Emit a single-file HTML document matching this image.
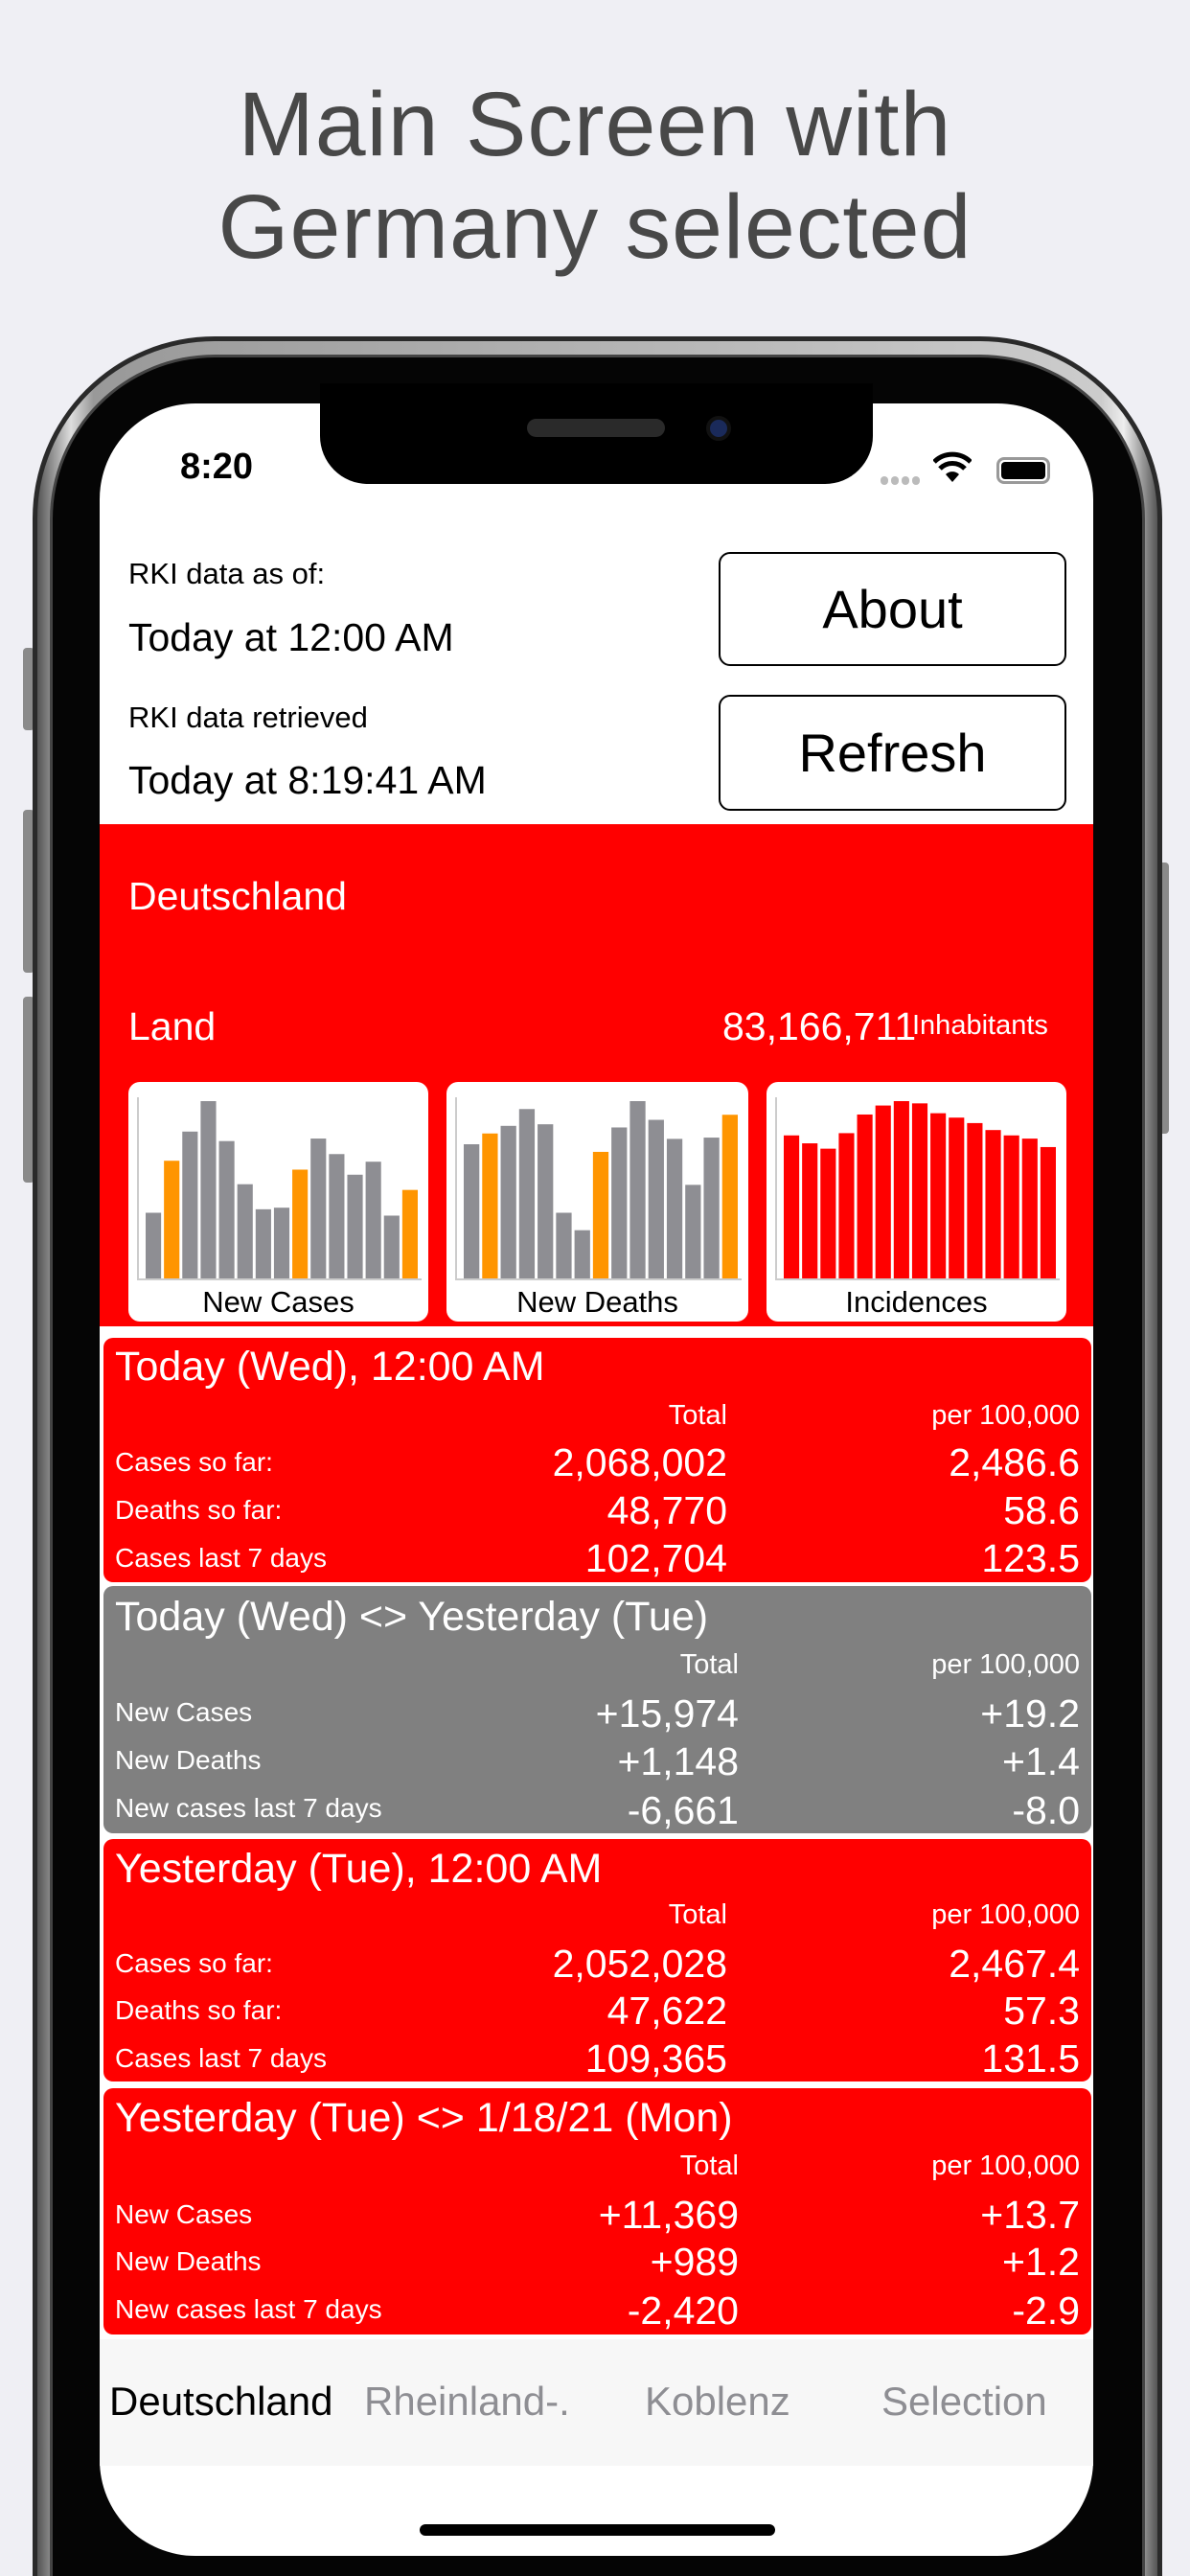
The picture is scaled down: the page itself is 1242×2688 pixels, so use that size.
<!DOCTYPE html>
<html style="overflow:hidden;width:1242px;height:2688px"><head><meta charset="utf-8">
<style>
*{margin:0;padding:0;box-sizing:border-box}
html,body{width:1242px;height:2688px;overflow:hidden}
body{background:#efeff4;font-family:"Liberation Sans",sans-serif}
#root{position:relative;width:1242px;height:2688px;overflow:hidden;background:#efeff4}
.abs{position:absolute}
.title{left:0;width:1242px;text-align:center;color:#484848;font-size:95px;line-height:1;letter-spacing:1px}
.frame{left:34px;top:351px;width:1179px;height:2337px;border-radius:190px 190px 0 0;background:linear-gradient(90deg,#555,#ddd 3%,#999 5%,#ccc 95%,#eee 97%,#555);border:5px solid #2a2a2a;border-bottom:none}
.bezel{left:52px;top:370px;width:1143px;height:2318px;border-radius:172px 172px 0 0;background:#050505;border:3px solid #444;border-bottom:none}
.screen{left:104px;top:421px;width:1037px;height:2246px;border-radius:100px;background:#fff;overflow:hidden}
.notch{left:334px;top:400px;width:577px;height:105px;background:#000;border-radius:0 0 50px 50px}
.btn{border:2px solid #000;border-radius:12px;background:#fff;font-size:56px;text-align:center;color:#000}
.w{color:#fff}
.card{left:108px;width:1031px;border-radius:10px;color:#fff}
.card .t{position:absolute;left:12px;font-size:43px;white-space:nowrap}
.card .h{position:absolute;font-size:29px;text-align:right}
.card .l{position:absolute;left:12px;font-size:28px}
.card .v{position:absolute;font-size:41px;text-align:right}
.chartbox{top:1129px;height:250px;background:#fff;border-radius:12px}
.chartbox .lab{position:absolute;bottom:2px;width:100%;text-align:center;font-size:31px;color:#000}
.tab{font-size:42px;color:#8e8e93;top:2482px;white-space:nowrap}
.side{background:#8a8a8a;border-radius:4px}
</style></head><body>
<div id="root">
<div class="abs title" style="top:83px">Main Screen with</div>
<div class="abs title" style="top:190px">Germany selected</div>

<div class="abs side" style="left:24px;top:676px;width:12px;height:86px"></div>
<div class="abs side" style="left:24px;top:845px;width:12px;height:170px"></div>
<div class="abs side" style="left:24px;top:1040px;width:12px;height:194px"></div>
<div class="abs side" style="left:1208px;top:900px;width:12px;height:283px"></div>
<div class="abs frame"></div>
<div class="abs bezel"></div>

<div class="abs screen">
  <div class="abs" style="left:84px;top:45px;font-size:38px;font-weight:bold">8:20</div>
  <div class="abs" style="left:815px;top:72px;width:44px;height:8px;">
    <span style="display:inline-block;width:8px;height:9px;background:#bbb;border-radius:4px;margin-right:3px"></span><span style="display:inline-block;width:8px;height:9px;background:#bbb;border-radius:4px;margin-right:3px"></span><span style="display:inline-block;width:8px;height:9px;background:#bbb;border-radius:4px;margin-right:3px"></span><span style="display:inline-block;width:8px;height:9px;background:#bbb;border-radius:4px"></span>
  </div>
  <svg class="abs" style="left:870px;top:50px" width="40" height="34" viewBox="0 0 40 34"><path d="M20 32 L13 24 A10 10 0 0 1 27 24 Z" fill="#000"/><path d="M7 18 A18 18 0 0 1 33 18" stroke="#000" stroke-width="5" fill="none"/><path d="M1 11 A27 27 0 0 1 39 11" stroke="#000" stroke-width="5" fill="none"/></svg>
  <div class="abs" style="left:936px;top:56px;width:56px;height:28px;border:3px solid #999;border-radius:8px;padding:2px"><div style="width:100%;height:100%;background:#000;border-radius:4px"></div></div>

  <div class="abs" style="left:30px;top:160px;font-size:31px">RKI data as of:</div>
  <div class="abs" style="left:30px;top:221px;font-size:41px">Today at 12:00 AM</div>
  <div class="abs" style="left:30px;top:310px;font-size:31px">RKI data retrieved</div>
  <div class="abs" style="left:30px;top:370px;font-size:41px">Today at 8:19:41 AM</div>
  <div class="abs btn" style="left:646px;top:155px;width:363px;height:119px;line-height:115px">About</div>
  <div class="abs btn" style="left:646px;top:304px;width:363px;height:121px;line-height:117px">Refresh</div>

  <div class="abs" style="left:0;top:439px;width:1037px;height:524px;background:#ff0000"></div>
  <div class="abs w" style="left:30px;top:491px;font-size:41px">Deutschland</div>
  <div class="abs w" style="left:30px;top:627px;font-size:41px">Land</div>
  <div class="abs w" style="left:650px;top:627px;width:198px;text-align:right;font-size:41px">83,166,711</div>
  <div class="abs w" style="left:848px;top:633px;font-size:29px">Inhabitants</div>
</div>
<div class="abs notch">
  <div class="abs" style="left:216px;top:37px;width:144px;height:19px;background:#2a2a2a;border-radius:10px"></div>
  <div class="abs" style="left:403px;top:34px;width:26px;height:26px;background:#1a2a5a;border-radius:13px;border:4px solid #111"></div>
</div>

<div class="abs chartbox" style="left:134px;width:313px"><svg id="c1" width="313" height="250"></svg><div class="lab">New Cases</div></div>
<div class="abs chartbox" style="left:466px;width:315px"><svg id="c2" width="315" height="250"></svg><div class="lab">New Deaths</div></div>
<div class="abs chartbox" style="left:800px;width:313px"><svg id="c3" width="313" height="250"></svg><div class="lab">Incidences</div></div>

<!-- Card 1 -->
<div class="abs card" style="top:1396px;height:255px;background:#ff0000">
  <div class="t" style="top:6px">Today (Wed), 12:00 AM</div>
  <div class="h" style="right:380px;top:65px">Total</div>
  <div class="h" style="right:12px;top:65px">per 100,000</div>
  <div class="l" style="top:114px">Cases so far:</div>
  <div class="v" style="right:380px;top:107px">2,068,002</div>
  <div class="v" style="right:12px;top:107px">2,486.6</div>
  <div class="l" style="top:164px">Deaths so far:</div>
  <div class="v" style="right:380px;top:157px">48,770</div>
  <div class="v" style="right:12px;top:157px">58.6</div>
  <div class="l" style="top:214px">Cases last 7 days</div>
  <div class="v" style="right:380px;top:207px">102,704</div>
  <div class="v" style="right:12px;top:207px">123.5</div>
</div>
<!-- Card 2 -->
<div class="abs card" style="top:1655px;height:258px;background:#808080">
  <div class="t" style="top:8px">Today (Wed) &lt;&gt; Yesterday (Tue)</div>
  <div class="h" style="right:368px;top:66px">Total</div>
  <div class="h" style="right:12px;top:66px">per 100,000</div>
  <div class="l" style="top:116px">New Cases</div>
  <div class="v" style="right:368px;top:110px">+15,974</div>
  <div class="v" style="right:12px;top:110px">+19.2</div>
  <div class="l" style="top:166px">New Deaths</div>
  <div class="v" style="right:368px;top:160px">+1,148</div>
  <div class="v" style="right:12px;top:160px">+1.4</div>
  <div class="l" style="top:216px">New cases last 7 days</div>
  <div class="v" style="right:368px;top:211px">-6,661</div>
  <div class="v" style="right:12px;top:211px">-8.0</div>
</div>
<!-- Card 3 -->
<div class="abs card" style="top:1919px;height:253px;background:#ff0000">
  <div class="t" style="top:7px">Yesterday (Tue), 12:00 AM</div>
  <div class="h" style="right:380px;top:63px">Total</div>
  <div class="h" style="right:12px;top:63px">per 100,000</div>
  <div class="l" style="top:114px">Cases so far:</div>
  <div class="v" style="right:380px;top:107px">2,052,028</div>
  <div class="v" style="right:12px;top:107px">2,467.4</div>
  <div class="l" style="top:163px">Deaths so far:</div>
  <div class="v" style="right:380px;top:156px">47,622</div>
  <div class="v" style="right:12px;top:156px">57.3</div>
  <div class="l" style="top:213px">Cases last 7 days</div>
  <div class="v" style="right:380px;top:206px">109,365</div>
  <div class="v" style="right:12px;top:206px">131.5</div>
</div>
<!-- Card 4 -->
<div class="abs card" style="top:2179px;height:257px;background:#ff0000">
  <div class="t" style="top:7px">Yesterday (Tue) &lt;&gt; 1/18/21 (Mon)</div>
  <div class="h" style="right:368px;top:65px">Total</div>
  <div class="h" style="right:12px;top:65px">per 100,000</div>
  <div class="l" style="top:116px">New Cases</div>
  <div class="v" style="right:368px;top:109px">+11,369</div>
  <div class="v" style="right:12px;top:109px">+13.7</div>
  <div class="l" style="top:165px">New Deaths</div>
  <div class="v" style="right:368px;top:158px">+989</div>
  <div class="v" style="right:12px;top:158px">+1.2</div>
  <div class="l" style="top:215px">New cases last 7 days</div>
  <div class="v" style="right:368px;top:209px">-2,420</div>
  <div class="v" style="right:12px;top:209px">-2.9</div>
</div>

<div class="abs" style="left:104px;top:2441px;width:1037px;height:132px;background:#f7f7f7"></div>
<div class="abs tab" style="left:114px;color:#000">Deutschland</div>
<div class="abs tab" style="left:380px">Rheinland-.</div>
<div class="abs tab" style="left:673px">Koblenz</div>
<div class="abs tab" style="left:920px">Selection</div>
<div class="abs" style="left:438px;top:2634px;width:371px;height:12px;background:#000;border-radius:6px"></div>
</div>

<script>
const casesValues=[210,374,466,562,436,300,221,226,346,444,395,330,371,201,282];
const casesHighlight=[1,8,14];
const deathsValues=[426,460,484,537,489,210,155,402,479,562,503,443,298,447,519];
const deathsHighlight=[1,7,14];
const incidenceValues=[134.4,127.0,122.0,136.5,153.9,162.3,166.4,164.3,155.1,151.0,145.9,139.4,134.4,131.4,123.5];

function drawChart(id,values,highlight,base){
  const svg=document.getElementById(id);
  const ns='http://www.w3.org/2000/svg';
  const W=+svg.getAttribute('width');
  const x0=10,x1=W-9,yb=206,yt=20;
  const maxV=Math.max(...values);
  const yScale=v=>yb-(v/maxV)*(yb-yt);
  const axis=document.createElementNS(ns,'path');
  axis.setAttribute('d',`M${x0} ${yt-4} V${yb} H${x1+2}`);
  axis.setAttribute('stroke','#ccc');axis.setAttribute('stroke-width','2');axis.setAttribute('fill','none');
  
  
  svg.appendChild(axis);
  const bx=x0+7, step=(x1-bx)/values.length;
  values.forEach((v,i)=>{
    const r=document.createElementNS(ns,'rect');
    const y=yScale(v);
    r.setAttribute('x',bx+i*step+1);r.setAttribute('width',step-3);
    r.setAttribute('y',y);r.setAttribute('height',yb-1-y);
    r.setAttribute('fill',highlight.includes(i)?'#ff9500':base);
    
    
    svg.appendChild(r);
  });
}
drawChart('c1',casesValues,casesHighlight,'#8e8e93');
drawChart('c2',deathsValues,deathsHighlight,'#8e8e93');
drawChart('c3',incidenceValues,[],'#ff0000');
</script>
</body></html>
